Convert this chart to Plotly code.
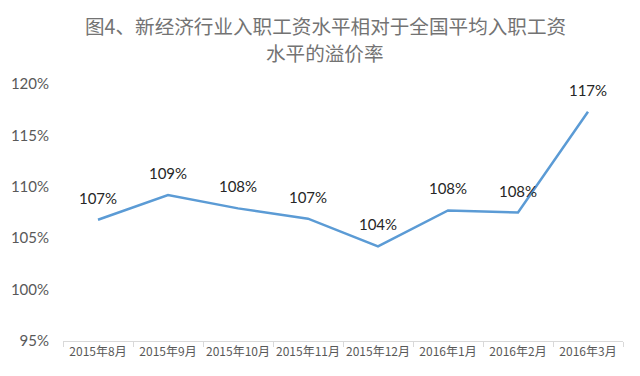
import plotly.graph_objects as go

months = ["2015年8月", "2015年9月", "2015年10月", "2015年11月", "2015年12月",
          "2016年1月", "2016年2月", "2016年3月"]
premium = [106.8, 109.2, 107.9, 106.9, 104.2, 107.7, 107.5, 117.3]
y_ticks = [95, 100, 105, 110, 115, 120]
y_tick_text = [f"{v}%" for v in y_ticks]
title_lines = ["图4、新经济行业入职工资水平相对于全国平均入职工资", "水平的溢价率"]

fig = go.Figure()
fig.add_trace(go.Scatter(
    x=months, y=premium, mode="lines+markers+text",
    line=dict(color="#5B9BD5", width=2.5),
    marker=dict(size=18, opacity=0),
    text=[f"{v:.0f}%" for v in premium],
    textposition="top center",
    textfont=dict(family="Lato, Open Sans, sans-serif", size=15, color="#262626"),
    hoverinfo="skip", cliponaxis=False,
))

for i, line in enumerate(title_lines):
    fig.add_annotation(
        text=line, xref="paper", yref="paper", x=0.468, y=1, xanchor="center",
        yanchor="middle", yshift=59 - 27 * i, showarrow=False,
        font=dict(family="Noto Sans CJK SC", size=19.6, color="#737373"),
    )

fig.update_layout(
    width=632, height=368,
    margin=dict(l=55, r=17, t=76, b=35, autoexpand=False),
    paper_bgcolor="white", plot_bgcolor="white",
    showlegend=False,
    xaxis=dict(
        type="category", range=[-0.5, 7.5], automargin=False,
        showline=True, linecolor="#D9D9D9", linewidth=1,
        ticks="outside", ticklen=5, tickcolor="#D9D9D9", tickson="boundaries",
        tickangle=0,
        tickfont=dict(family="Noto Sans CJK SC", size=12, color="#595959"),
        showgrid=False, zeroline=False,
    ),
    yaxis=dict(
        range=[95, 120], tickmode="array", tickvals=y_ticks, ticktext=y_tick_text,
        automargin=False,
        showgrid=False, zeroline=False, showline=False,
        tickfont=dict(family="Lato, sans-serif", size=15, color="#595959"),
        ticklabelstandoff=13,
    ),
)

fig.write_html("out.html")
